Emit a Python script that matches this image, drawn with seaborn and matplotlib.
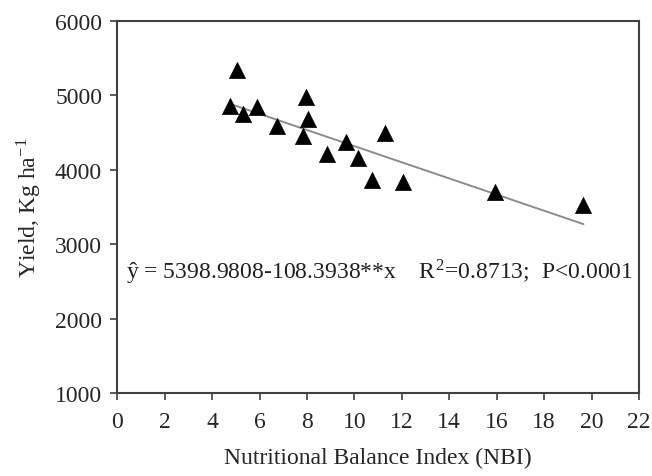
import numpy as np
import pandas as pd
import matplotlib
matplotlib.use('Agg')
import matplotlib.pyplot as plt
import seaborn as sns

# Data
nbi = [4.76, 5.04, 5.32, 5.88, 6.75, 7.81, 7.96, 8.03, 8.84, 9.65,
       10.14, 10.73, 11.27, 12.04, 15.91, 19.66]
yield_kg = [4859, 5342, 4748, 4838, 4583, 4456, 4972, 4681, 4211, 4368,
            4153, 3866, 4493, 3839, 3697, 3526]

# Regression reported on the chart
intercept = 5398.9808
slope = -108.3938
x_ticks = list(range(0, 23, 2))
y_ticks = list(range(1000, 6001, 1000))

sns.set_style('white')
plt.rcParams['font.family'] = ['Liberation Serif', 'DejaVu Serif']
plt.rcParams['mathtext.fontset'] = 'stix'

data = pd.DataFrame({'NBI': nbi, 'Yield': yield_kg})
line_x = np.array([min(nbi), max(nbi)])
fit = pd.DataFrame({'NBI': line_x, 'Yield': intercept + slope * line_x})

fig = plt.figure(figsize=(6.52, 4.77), dpi=100)
ax = fig.add_axes([0.18, 0.174, 0.80, 0.7805])

sns.lineplot(data=fit, x='NBI', y='Yield', color='#8c8c8c', linewidth=1.4, ax=ax)
sns.scatterplot(data=data, x='NBI', y='Yield', marker='^', s=135,
                color='black', edgecolor='black', linewidth=0.5, ax=ax, zorder=3)

ax.set_xlim(0, 22)
ax.set_ylim(1000, 6000)
ax.set_xticks(x_ticks)
ax.set_yticks(y_ticks)
ax.tick_params(axis='both', direction='out', length=5, width=1.2,
               color='#404040', labelsize=17, bottom=True, left=True)
ax.tick_params(axis='x', pad=8)
ax.tick_params(axis='y', pad=6)

for side in ['top', 'right', 'bottom', 'left']:
    ax.spines[side].set_visible(True)
    ax.spines[side].set_color('#404040')
    ax.spines[side].set_linewidth(1.5)

ax.set_xlabel('Nutritional Balance Index (NBI)', fontsize=17, labelpad=11)
ax.set_ylabel('Yield, Kg ha$^{\\mathregular{-1}}$', fontsize=17, labelpad=8)

ax.text(0.35, 2630,
        '\u0177 = 5398.9808-108.3938**x    R$^{\\mathregular{2}}$=0.8713;  P<0.0001',
        fontsize=17, va='center', ha='left', color='#202020')

fig.savefig('out.png', dpi=100, facecolor='white')
